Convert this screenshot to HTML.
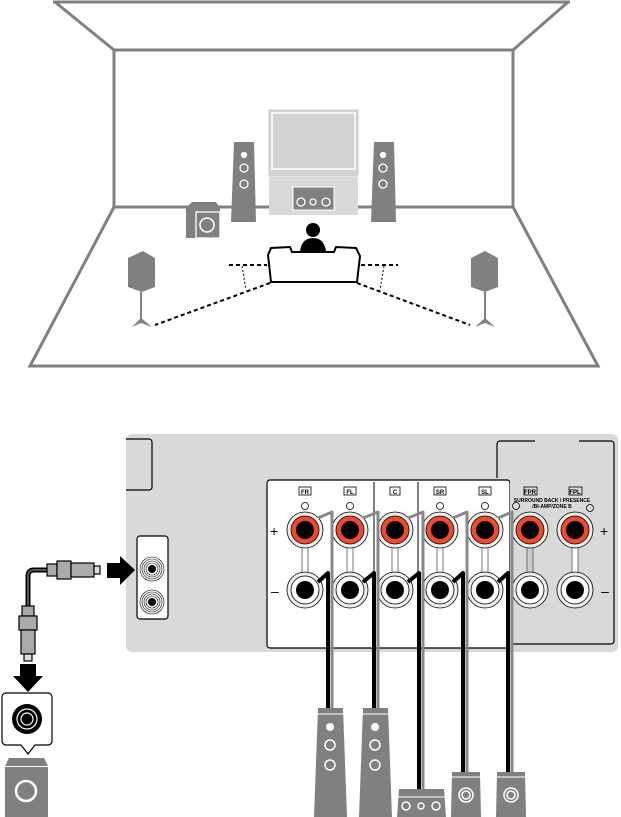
<!DOCTYPE html>
<html><head><meta charset="utf-8"><style>html,body{margin:0;padding:0;background:#fff}svg{display:block}</style></head><body>
<svg width="621" height="817" viewBox="0 0 621 817" xmlns="http://www.w3.org/2000/svg" font-family="Liberation Sans, sans-serif">
<!-- Room -->
<g fill="none" stroke="#808080" stroke-width="3">
<line x1="53" y1="2" x2="570" y2="2"/>
<line x1="55" y1="2" x2="114" y2="50"/>
<line x1="568" y1="2" x2="513" y2="50"/>
<rect x="114" y="50" width="399" height="157"/>
<polyline points="114,207 30,366 598,366 513,207"/>
</g>
<line x1="114" y1="207" x2="513" y2="207" stroke="#808080" stroke-width="1.5"/>
<!-- TV -->
<rect x="269" y="110" width="89" height="66" fill="#d3d3d3" stroke="#ccc"/>
<rect x="272" y="113" width="83" height="56" fill="none" stroke="#fff" stroke-width="1.5"/>
<rect x="269" y="177" width="89" height="38" fill="#d9d9d9"/>
<rect x="293" y="187" width="41" height="23" fill="#808080" stroke="#fff"/>
<g fill="none" stroke="#fff" stroke-width="1.3"><circle cx="301" cy="202" r="4"/><circle cx="313" cy="202" r="3"/><circle cx="326" cy="202" r="4"/></g>
<!-- towers -->
<g fill="#808080">
<polygon points="234,142 254,142 256,222 231,222"/>
<polygon points="374,142 394,142 396,222 371,222"/>
</g>
<g fill="none" stroke="#fff" stroke-width="1.3">
<circle cx="244" cy="155" r="2.5" fill="#fff"/><circle cx="244" cy="168" r="4"/><circle cx="244" cy="184" r="4"/>
<circle cx="383" cy="155" r="2.5" fill="#fff"/><circle cx="383" cy="168" r="4"/><circle cx="383" cy="184" r="4"/>
</g>
<!-- sub -->
<polygon points="186,208 192,202 216,202 220,208 220,238 186,238" fill="#808080"/>
<rect x="196" y="212" width="24" height="26" fill="#808080" stroke="#fff" stroke-width="1.3"/>
<circle cx="207" cy="225" r="7" fill="none" stroke="#fff" stroke-width="1.5"/>
<!-- person and sofa -->
<circle cx="313" cy="230" r="7" fill="#000"/>
<path d="M300,251 Q302,238 313,238 Q324,238 326,251 Z" fill="#000"/>
<path d="M268,255 L271,248 L290,247 L292,252 L334,252 L336,247 L356,248 L360,256 L357,282 L271,282 Z" fill="#fff" stroke="#000" stroke-width="2"/>
<!-- surround speakers -->
<g fill="#808080">
<polygon points="128,258 143,251 155,258 155,287 142,292 128,287"/>
<polygon points="471,258 485,251 498,258 498,287 485,292 471,287"/>
</g>
<line x1="141" y1="292" x2="141" y2="322" stroke="#808080" stroke-width="2"/>
<line x1="485" y1="292" x2="485" y2="322" stroke="#808080" stroke-width="2"/>
<path d="M132,327 L141,318 L152,327 L141,323 Z" fill="#808080"/>
<path d="M475,327 L485,318 L495,327 L485,323 Z" fill="#808080"/>
<g stroke="#000" stroke-width="2" stroke-dasharray="4,3" fill="none">
<line x1="270" y1="283" x2="155" y2="325"/>
<line x1="357" y1="283" x2="470" y2="325"/>
<line x1="229" y1="265" x2="267" y2="265"/>
<line x1="361" y1="265" x2="398" y2="265"/>
</g>
<g stroke="#000" stroke-width="1" stroke-dasharray="2,2" fill="none">
<line x1="242" y1="266" x2="246" y2="290"/><line x1="384" y1="266" x2="380" y2="290"/>
</g>
<!-- receiver panel -->
<rect x="126" y="434" width="492" height="218" rx="6" fill="#d9d9d9"/>
<path d="M126,439 H149 a3,3 0 0 1 3,3 V487 a3,3 0 0 1 -3,3 H126" fill="none" stroke="#000" stroke-width="1.2"/>
<path d="M497,478 V444 a3,3 0 0 1 3,-3 H535 M579,441 H611 a3,3 0 0 1 3,3 V641 a3,3 0 0 1 -3,3 H510" fill="none" stroke="#000" stroke-width="1.2"/>
<rect x="267" y="480" width="243" height="168" rx="3" fill="#fff" stroke="#000" stroke-width="1.2"/>
<rect x="510" y="481" width="2" height="166" fill="#d9d9d9"/>
<line x1="374" y1="482" x2="374" y2="648" stroke="#000"/>
<line x1="418" y1="482" x2="418" y2="648" stroke="#000"/>
<!-- RCA box -->
<rect x="137" y="536" width="31" height="83" rx="3" fill="#fff" stroke="#000" stroke-width="1.2"/>
<g fill="none" stroke="#000" stroke-width="0.6">
<circle cx="152" cy="569" r="12"/><circle cx="152" cy="569" r="10"/><circle cx="152" cy="569" r="8"/><circle cx="152" cy="569" r="6"/>
<circle cx="152" cy="602" r="12"/><circle cx="152" cy="602" r="10"/><circle cx="152" cy="602" r="8"/><circle cx="152" cy="602" r="6"/>
</g>
<circle cx="152" cy="569" r="4" fill="#000"/><circle cx="152" cy="602" r="4" fill="#000"/>
<!-- labels -->
<g font-size="7" font-weight="bold" text-anchor="middle" fill="#000">
<g fill="none" stroke="#000" stroke-width="0.8">
<rect x="299" y="487" width="12" height="8"/><rect x="344" y="487" width="12" height="8"/><rect x="390" y="487" width="10" height="8"/><rect x="434" y="487" width="12" height="8"/><rect x="479" y="487" width="12" height="8"/><rect x="524" y="487" width="13" height="8"/><rect x="569" y="487" width="13" height="8"/>
<circle cx="305" cy="506" r="3.5"/><circle cx="350" cy="506" r="3.5"/><circle cx="440" cy="506" r="3.5"/><circle cx="485" cy="506" r="3.5"/><circle cx="516" cy="506" r="3.5"/><circle cx="590" cy="508" r="3.5"/>
</g>
<text x="305" y="494" font-size="6">FR</text><text x="350" y="494" font-size="6">FL</text><text x="395" y="494" font-size="6">C</text><text x="440" y="494" font-size="6">SR</text><text x="485" y="494" font-size="6">SL</text><text x="530" y="494" font-size="6">FPR</text><text x="575" y="494" font-size="6">FPL</text>
<text x="552" y="502" font-size="5">SURROUND BACK / PRESENCE</text>
<text x="552" y="508" font-size="5">/BI-AMP/ZONE B</text>
</g>
<g font-size="14" fill="#000"><text x="270" y="536">+</text><text x="271" y="596">–</text><text x="600" y="536">+</text><text x="601" y="596">–</text></g>
<!-- terminals -->
<g id="t">
</g>
<g>
<!-- connecting bars -->
<g fill="#fff" stroke="#555" stroke-width="0.8">
<rect x="302" y="545" width="6" height="30"/><rect x="347" y="545" width="6" height="30"/><rect x="392" y="545" width="6" height="30"/><rect x="437" y="545" width="6" height="30"/><rect x="482" y="545" width="6" height="30"/><rect x="527" y="545" width="6" height="30" fill="#ccc"/><rect x="572" y="545" width="6" height="30"/>
</g>
<g stroke="#000" stroke-width="0.8">
<g fill="#eee"><circle cx="305" cy="530" r="18"/><circle cx="350" cy="530" r="18"/><circle cx="395" cy="530" r="18"/><circle cx="440" cy="530" r="18"/><circle cx="485" cy="530" r="18"/><circle cx="530" cy="530" r="18"/><circle cx="575" cy="530" r="18"/>
<circle cx="305" cy="590" r="18"/><circle cx="350" cy="590" r="18"/><circle cx="395" cy="590" r="18"/><circle cx="440" cy="590" r="18"/><circle cx="485" cy="590" r="18"/><circle cx="530" cy="590" r="18"/><circle cx="575" cy="590" r="18"/></g>
<g fill="#f04a2a"><circle cx="305" cy="530" r="14"/><circle cx="350" cy="530" r="14"/><circle cx="395" cy="530" r="14"/><circle cx="440" cy="530" r="14"/><circle cx="485" cy="530" r="14"/><circle cx="530" cy="530" r="14"/><circle cx="575" cy="530" r="14"/></g>
<g fill="#fff"><circle cx="305" cy="590" r="14"/><circle cx="350" cy="590" r="14"/><circle cx="395" cy="590" r="14"/><circle cx="440" cy="590" r="14"/><circle cx="485" cy="590" r="14"/><circle cx="530" cy="590" r="14"/><circle cx="575" cy="590" r="14"/></g>
</g>
<g fill="#000"><circle cx="305" cy="530" r="9"/><circle cx="350" cy="530" r="9"/><circle cx="395" cy="530" r="9"/><circle cx="440" cy="530" r="9"/><circle cx="485" cy="530" r="9"/><circle cx="530" cy="530" r="9"/><circle cx="575" cy="530" r="9"/>
<circle cx="305" cy="590" r="9"/><circle cx="350" cy="590" r="9"/><circle cx="395" cy="590" r="9"/><circle cx="440" cy="590" r="9"/><circle cx="485" cy="590" r="9"/><circle cx="530" cy="590" r="9"/><circle cx="575" cy="590" r="9"/></g>
</g>
<!-- speaker cables -->
<g fill="none" stroke-linejoin="round">
<g stroke="#000" stroke-width="4">
<path d="M318,582 L328,573 V710"/><path d="M363,582 L374,573 V710"/><path d="M408,582 L419,573 V790"/><path d="M453,582 L463,573 V772"/><path d="M498,582 L508,573 V772"/>
</g>
<g stroke="#888" stroke-width="3">
<path d="M318,518 L332,512 V710"/><path d="M363,518 L378,512 V710"/><path d="M408,518 L423,512 V790"/><path d="M453,518 L467,512 V772"/><path d="M498,518 L512,512 V772"/>
</g>
</g>
<!-- bottom speakers -->
<g fill="#808080">
<polygon points="318,708 343,708 347,817 314,817"/>
<polygon points="363,708 388,708 392,817 359,817"/>
<polygon points="399,789 444,789 446,817 397,817"/>
<polygon points="452,772 480,772 481,817 451,817"/>
<polygon points="497,772 525,772 526,817 496,817"/>
</g>
<g stroke="#fff" fill="none" stroke-width="1">
<line x1="316" y1="714" x2="345" y2="714"/><line x1="361" y1="714" x2="390" y2="714"/><line x1="398" y1="797" x2="445" y2="797"/><line x1="451" y1="777" x2="481" y2="777"/><line x1="496" y1="777" x2="526" y2="777"/>
</g>
<g fill="none" stroke="#fff" stroke-width="1.5">
<circle cx="330" cy="745" r="5"/><circle cx="330" cy="765" r="5"/><circle cx="375" cy="745" r="5"/><circle cx="375" cy="765" r="5"/>
<circle cx="406" cy="806" r="4"/><circle cx="421" cy="806" r="3"/><circle cx="436" cy="806" r="4"/>
<circle cx="466" cy="795" r="7"/><circle cx="466" cy="795" r="4"/><circle cx="511" cy="795" r="7"/><circle cx="511" cy="795" r="4"/>
</g>
<g fill="#fff"><circle cx="330" cy="727" r="4"/><circle cx="375" cy="727" r="4"/></g>
<!-- sub connection -->
<polygon points="107,563 120,563 120,556 135,570 120,585 120,578 107,578" fill="#000"/>
<path d="M50,570 H34 Q28,570 28,576 V610" fill="none" stroke="#000" stroke-width="5"/>
<path d="M50,570 H34 Q28,570 28,576 V610" fill="none" stroke="#555" stroke-width="2"/>
<g stroke="#000" stroke-width="1.2" fill="#aaa">
<rect x="47" y="564" width="10" height="12"/><rect x="57" y="561" width="14" height="18"/><rect x="71" y="563" width="23" height="14"/><rect x="94" y="566" width="6" height="8" fill="#ddd"/>
<rect x="22" y="606" width="12" height="10"/><rect x="19" y="616" width="18" height="14"/><rect x="21" y="630" width="14" height="24"/><rect x="24" y="654" width="8" height="7" fill="#ddd"/>
</g>
<polygon points="20,664 36,664 36,676 43,676 28,692 13,676 20,676" fill="#000"/>
<path d="M6,693 H48 a4,4 0 0 1 4,4 V741 a4,4 0 0 1 -4,4 H35 L28,754 L21,745 H6 a4,4 0 0 1 -4,-4 V697 a4,4 0 0 1 4,-4 Z" fill="#fff" stroke="#000" stroke-width="1.2"/>
<circle cx="27" cy="719" r="15" fill="#000"/>
<circle cx="27" cy="719" r="10" fill="none" stroke="#fff" stroke-width="1.2"/>
<circle cx="27" cy="719" r="6" fill="none" stroke="#fff" stroke-width="1.2"/>
<polygon points="9,758 44,758 48,766 5,766" fill="#808080"/>
<rect x="5" y="767" width="43" height="50" fill="#808080"/>
<circle cx="26" cy="791" r="10" fill="none" stroke="#fff" stroke-width="2.5"/>
</svg>
</body></html>
